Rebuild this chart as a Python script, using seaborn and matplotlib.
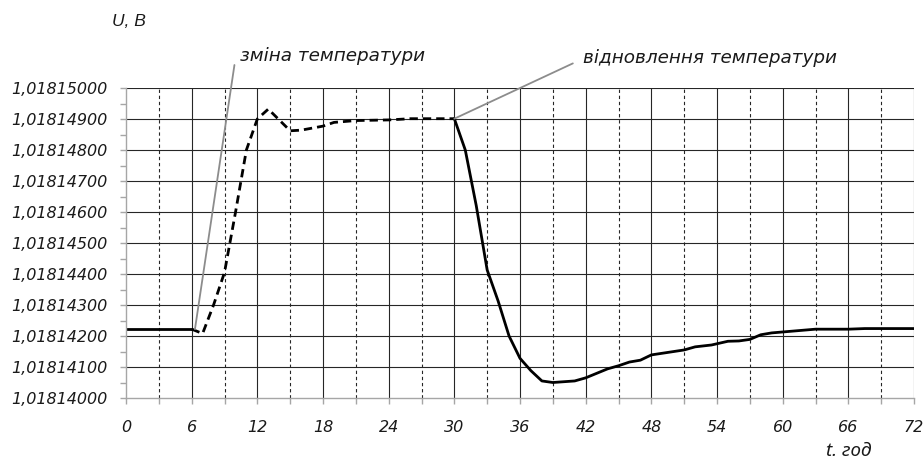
import matplotlib
matplotlib.use("Agg")
import matplotlib.pyplot as plt
import seaborn as sns
import pandas as pd
from matplotlib.ticker import FixedLocator, FuncFormatter, MultipleLocator

# Stable regime before the temperature change
t_before = [0, 6]
u_before = [1.01814222, 1.01814222]

# Transient after the temperature change (dashed)
t_change = [6, 7, 8, 9, 10, 11, 12, 13, 15, 16, 18, 19, 21, 24, 26, 30]
u_change = [1.01814222, 1.01814208, 1.01814300, 1.01814405, 1.01814598,
            1.01814800, 1.01814900, 1.01814932, 1.01814862, 1.01814864,
            1.01814877, 1.01814889, 1.01814895, 1.01814897, 1.01814901,
            1.01814901]

# Recovery after the temperature is restored (solid)
t_restore = [30, 31, 32, 33, 34, 35, 36, 37, 38, 39, 41, 42, 44, 45, 46, 47,
             48, 49.5, 51, 52, 53.5, 55, 56, 57, 58, 59, 61, 63, 66, 67.5, 72]
u_restore = [1.01814901, 1.01814800, 1.01814621, 1.01814413, 1.01814313,
             1.01814200, 1.01814128, 1.01814088, 1.01814055, 1.01814050,
             1.01814055, 1.01814065, 1.01814094, 1.01814104, 1.01814116,
             1.01814122, 1.01814139, 1.01814147, 1.01814155, 1.01814165,
             1.01814171, 1.01814183, 1.01814184, 1.01814189, 1.01814204,
             1.01814210, 1.01814216, 1.01814222, 1.01814222, 1.01814224,
             1.01814224]

x_ticks = [0, 6, 12, 18, 24, 30, 36, 42, 48, 54, 60, 66, 72]
y_ticks = [1.01814000, 1.01814100, 1.01814200, 1.01814300, 1.01814400,
           1.01814500, 1.01814600, 1.01814700, 1.01814800, 1.01814900,
           1.01815000]

label_change = "зміна температури"
label_restore = "відновлення температури"
x_label = "t. год"
y_label = "U, B"

sns.set_style("white")
plt.rcParams["font.family"] = ["DejaVu Sans"]

fig = plt.figure(figsize=(9.24, 4.59), dpi=100)
ax = fig.add_axes([126 / 924, 1 - 398 / 459, 788 / 924, 310 / 459])

line_kw = dict(color="black", linewidth=2.0, legend=False, ax=ax)
sns.lineplot(data=pd.DataFrame({"t": t_before, "u": u_before}), x="t", y="u", **line_kw)
sns.lineplot(data=pd.DataFrame({"t": t_change, "u": u_change}), x="t", y="u",
             dashes=False, **line_kw)
ax.lines[-1].set_dashes([3.0, 1.8])
sns.lineplot(data=pd.DataFrame({"t": t_restore, "u": u_restore}), x="t", y="u", **line_kw)

ax.set_xlim(x_ticks[0], x_ticks[-1])
ax.set_ylim(y_ticks[0], y_ticks[-1])
ax.set_xlabel("")
ax.set_ylabel("")

# Grid: solid lines at labelled hours, dashed at the half-steps
grid_color = "#262626"
for yv in y_ticks[1:]:
    ax.axhline(yv, color=grid_color, lw=0.8, zorder=0.5)
for xv in range(3, 73, 3):
    if xv % 6 == 0:
        ax.axvline(xv, color=grid_color, lw=0.8, zorder=0.5)
    else:
        ax.axvline(xv, color=grid_color, lw=0.8, ls=(0, (3, 2.5)), zorder=0.5)

for side in ("top", "right"):
    ax.spines[side].set_visible(False)
for side in ("left", "bottom"):
    ax.spines[side].set_color("#a6a6a6")
    ax.spines[side].set_linewidth(1.0)

ax.xaxis.set_major_locator(FixedLocator(x_ticks))
ax.xaxis.set_minor_locator(MultipleLocator(3))
ax.yaxis.set_major_locator(FixedLocator(y_ticks))
ax.yaxis.set_minor_locator(MultipleLocator(0.0000005))
ax.yaxis.set_major_formatter(FuncFormatter(lambda v, p: f"{v:.8f}".replace(".", ",")))

ax.tick_params(axis="both", which="both", direction="out", length=4, width=1,
               color="#a6a6a6", left=True, bottom=True)
ax.tick_params(axis="x", which="major", pad=12, labelsize=11.5, labelcolor="#1a1a1a")
ax.tick_params(axis="y", which="major", pad=9, labelsize=11.5, labelcolor="#1a1a1a")
for lab in ax.get_xticklabels() + ax.get_yticklabels():
    lab.set_fontstyle("italic")

text_font = dict(family=["DejaVu Sans"], style="italic", color="#1a1a1a")

fig.text(112 / 924, 1 - 22 / 459, y_label, fontsize=12.5, va="center", ha="left",
         family=["Liberation Sans", "DejaVu Sans"], style="italic", color="#1a1a1a")
fig.text(826 / 924, 1 - 451 / 459, x_label, fontsize=13.5, va="center", ha="left",
         family=["Noto Sans", "DejaVu Sans"], style="italic", color="#1a1a1a")

leader = dict(arrowstyle="-", color="#8c8c8c", lw=1.3, shrinkA=0, shrinkB=0)
ax.annotate(label_change, xy=(6.3, u_before[-1]), xytext=(240, 459 - 56),
            textcoords="figure pixels", fontsize=13.2, ha="left", va="center",
            arrowprops=dict(relpos=(-0.03, 0.0), **leader), annotation_clip=False,
            **text_font)
ax.annotate(label_restore, xy=(t_change[-1], u_change[-1]), xytext=(583, 459 - 58),
            textcoords="figure pixels", fontsize=13.2, ha="left", va="center",
            arrowprops=dict(relpos=(-0.04, 0.2), **leader), annotation_clip=False,
            **text_font)

fig.savefig("out.png", dpi=100)
